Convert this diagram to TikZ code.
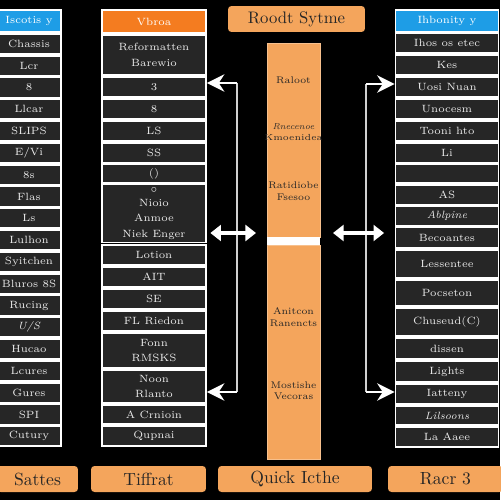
\documentclass[tikz,border=0pt]{standalone}
\usepackage{amssymb}
\usepackage{amsmath}
\usetikzlibrary{arrows.meta}

\definecolor{cellgray}{HTML}{262626}
\definecolor{headblue}{HTML}{1E9DE6}
\definecolor{headorange}{HTML}{F47C20}
\definecolor{sandorange}{HTML}{F4A55C}
\definecolor{linkgray}{HTML}{D0D0D0}

\tikzset{
    cell/.style={draw=white, line width=1pt, fill=cellgray, text=white!92!black,
        font=\fontsize{6}{7}\selectfont, inner sep=0pt, align=center, minimum height=0.4cm},
    lcell/.style={cell, minimum width=1.28cm},
    mcell/.style={cell, minimum width=2.08cm},
    rcell/.style={cell, minimum width=2.06cm},
    bluehead/.style={lcell, fill=headblue, minimum height=0.44cm},
    orangehead/.style={mcell, fill=headorange, minimum height=0.46cm},
    coreblock/.style={fill=sandorange, draw=sandorange!70!white, line width=0.5pt, minimum width=1.06cm, inner sep=0pt},
    coretext/.style={text=black!85, font=\fontsize{5.5}{6.5}\selectfont, align=center},
    footbox/.style={fill=sandorange, rounded corners=2pt, minimum height=0.52cm, inner sep=0pt,
        font=\fontsize{10}{12}\selectfont, text=black!85},
    link/.style={draw=linkgray, line width=1.1pt},
    tip/.style={link, draw=white, -{Stealth[length=10pt,width=10pt]}},
    dbl/.style={draw=white, line width=2.2pt, {Triangle[length=6pt,width=9pt]}-{Triangle[length=6pt,width=9pt]}}
}

\begin{document}
\begin{tikzpicture}[x=0.02cm, y=-0.02cm]

        \fill[black] (0,0) rectangle (500,500);
        \useasboundingbox (0,0) rectangle (500,500);

        % title
        \node[footbox, minimum width=2.74cm, font=\fontsize{9.5}{11}\selectfont] (title) at (296.5,19) {Roodt Sytme};

        % left column
        \node[bluehead, text=white] (lh) at (29,21) {Iscotis y};
        \node[lcell] (l1) at (29,43.9) {Chassis};
        \node[lcell] (l2) at (29,65.7) {Lcr};
        \node[lcell] (l3) at (29,87.5) {8};
        \node[lcell] (l4) at (29,109.3) {Llcar};
        \node[lcell] (l5) at (29,131.1) {SLIPS};
        \node[lcell] (l6) at (29,152.9) {E/Vi};
        \node[lcell] (l7) at (29,174.7) {8s};
        \node[lcell] (l8) at (29,196.5) {Flas};
        \node[lcell] (l9) at (29,218.3) {Ls};
        \node[lcell] (l10) at (29,240.1) {Lulhon};
        \node[lcell] (l11) at (29,261.9) {Syitchen};
        \node[lcell] (l12) at (29,283.7) {Bluros 8S};
        \node[lcell] (l13) at (29,305.5) {Rucing};
        \node[lcell] (l14) at (29,327.3) {\textit{U/S}};
        \node[lcell] (l15) at (29,349.1) {Hucao};
        \node[lcell] (l16) at (29,370.9) {Lcures};
        \node[lcell] (l17) at (29,392.7) {Gures};
        \node[lcell] (l18) at (29,414.5) {SPI};
        \node[lcell] (l19) at (29,436.3) {Cutury};

        % middle column
        \node[orangehead, text=white] (mh) at (154,21.5) {Vbroa};
        \node[mcell, minimum height=0.8cm] (m1) at (154,55) {Reformatten\\[2pt] Barewio};
        \node[mcell] (m2) at (154,87) {3};
        \node[mcell] (m3) at (154,109) {8};
        \node[mcell] (m4) at (154,131) {LS};
        \node[mcell] (m5) at (154,153) {SS};
        \node[mcell, minimum height=0.38cm] (m6) at (154,173.5) {()};
        \node[mcell, minimum height=1.16cm] (m7) at (154,213.5) {$\circ$\\[1pt] Nioio\\[2pt] Anmoe\\[2pt] Niek Enger};
        \node[mcell] (m8) at (154,255) {Lotion};
        \node[mcell] (m9) at (154,277) {AIT};
        \node[mcell] (m10) at (154,299) {SE};
        \node[mcell] (m11) at (154,321) {FL Riedon};
        \node[mcell, minimum height=0.7cm] (m12) at (154,350.5) {Fonn\\[2pt] RMSKS};
        \node[mcell, minimum height=0.66cm] (m13) at (154,386.5) {Noon\\[2pt] Rlanto};
        \node[mcell, minimum height=0.38cm] (m14) at (154,414.5) {A Crnioin};
        \node[mcell] (m15) at (154,436) {Qupnai};

        % centre block
        \node[coreblock, minimum height=3.88cm] (core1) at (293.5,140) {};
        \node[fill=white, minimum width=1.06cm, minimum height=0.16cm, inner sep=0pt] (sep) at (293.5,241) {};
        \node[coreblock, minimum height=4.28cm] (core2) at (293.5,352) {};
        \node[coretext] (c1) at (293.5,80) {Raloot};
        \node[coretext, font=\fontsize{5}{6}\selectfont] (c2) at (293.5,132) {\textit{Rnecenoe}\\ Kmoenidea};
        \node[coretext] (c3) at (293.5,191) {Ratidiobe\\ Fsesoo};
        \node[coretext] (c4) at (293.5,317) {Anitcon\\ Ranencts};
        \node[coretext] (c5) at (293.5,391) {Mostishe\\ Vecoras};

        % right column
        \node[bluehead, minimum width=2.06cm, text=white] (rh) at (447,21) {Ihbonity y};
        \node[rcell] (r1) at (447,43) {Ihos os etec};
        \node[rcell] (r2) at (447,65) {Kes};
        \node[rcell] (r3) at (447,87) {Uosi Nuan};
        \node[rcell] (r4) at (447,109) {Unocesm};
        \node[rcell] (r5) at (447,131) {Tooni hto};
        \node[rcell] (r6) at (447,153) {Li};
        \node[rcell, minimum height=0.38cm] (r7) at (447,173.5) {};
        \node[rcell] (r8) at (447,195) {AS};
        \node[rcell] (r9) at (447,216) {\textit{Ablpine}};
        \node[rcell, minimum height=0.42cm] (r10) at (447,237.5) {Becoantes};
        \node[rcell, minimum height=0.56cm] (r11) at (447,264) {Lessentee};
        \node[rcell, minimum height=0.52cm] (r12) at (447,293) {Pocseton};
        \node[rcell, minimum height=0.56cm] (r13) at (447,322) {Chuseud(C)};
        \node[rcell, minimum height=0.42cm] (r14) at (447,348.5) {dissen};
        \node[rcell, minimum height=0.42cm] (r15) at (447,371.5) {Lights};
        \node[rcell] (r16) at (447,394) {Iatteny};
        \node[rcell, minimum height=0.38cm] (r17) at (447,415.5) {\textit{Lilsoons}};
        \node[rcell] (r18) at (447,437) {La Aaee};

        % bottom row
        \node[footbox, minimum width=1.62cm] (b1) at (37.5,479) {Sattes};
        \node[footbox, minimum width=2.3cm] (b2) at (148.5,479) {Tiffrat};
        \node[footbox, minimum width=3.08cm] (b3) at (295,479) {Quick Icthe};
        \node[footbox, minimum width=2.3cm] (b4) at (445.5,479) {Racr 3};

        % connectors
        \coordinate (lt) at (237,83);
        \coordinate (lb) at (237,392);
        \coordinate (rt) at (366,84);
        \coordinate (rb) at (366,392);
        \coordinate (dl) at (256,233);
        \coordinate (dr) at (333,233);

        \draw[link] (lt) -- (lb);
        \draw[link] (rt) -- (rb);
        \draw[tip] (lt) -- (lt -| m2.east);
        \draw[tip] (lb) -- (lb -| m13.east);
        \draw[tip] (rt) -- (rt -| r3.west);
        \draw[tip] (rb) -- (rb -| r16.west);
        \draw[dbl] ([xshift=2pt]m7.east |- dl) -- (dl);
        \draw[dbl] (dr) -- ([xshift=-6pt]r10.west |- dr);

    \end{tikzpicture}
\end{document}
